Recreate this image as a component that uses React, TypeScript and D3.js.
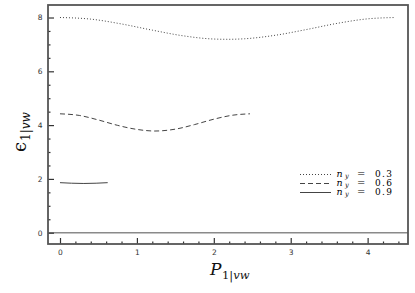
import * as d3 from "d3";
import { useEffect, useRef } from "react";

// n_y = 0.3 (dotted)
const x03 = [0, 0.4, 0.8, 1.2, 1.6, 2.0, 2.18, 2.4, 2.8, 3.2, 3.6, 4.0, 4.36];
const y03 = [8.0, 7.94, 7.76, 7.53, 7.32, 7.2, 7.19, 7.21, 7.34, 7.55, 7.78, 7.95, 8.0];
// n_y = 0.6 (dashed)
const x06 = [0, 0.25, 0.5, 0.75, 1.0, 1.235, 1.5, 1.75, 2.0, 2.25, 2.47];
const y06 = [4.42, 4.36, 4.19, 3.99, 3.84, 3.78, 3.85, 4.02, 4.22, 4.37, 4.42];
// n_y = 0.9 (solid)
const x09 = [0, 0.15, 0.31, 0.47, 0.62];
const y09 = [1.86, 1.84, 1.83, 1.84, 1.86];

const seriesLabels = ["0.3", "0.6", "0.9"];
const xMajor = [0, 1, 2, 3, 4];
const yMajor = [0, 2, 4, 6, 8];

export default function App() {
  const svgRef = useRef<SVGSVGElement | null>(null);

  useEffect(() => {
    if (!svgRef.current) return;
    const svg = d3.select(svgRef.current);
    svg.selectAll("*").remove();

    const left = 48;
    const right = 408;
    const top = 5;
    const bottom = 244;
    const serif = "DejaVu Serif, serif";

    const x = d3.scaleLinear().domain([-0.156, 4.525]).range([left, right]);
    const y = d3.scaleLinear().domain([-0.42, 8.465]).range([bottom, top]);

    const xMinor = d3.range(0, 4.41, 0.2).filter((v) => Math.abs(v - Math.round(v)) > 1e-6);
    const yMinor = d3.range(0, 8.41, 0.5).filter((v) => Math.abs(v % 2) > 1e-6);

    // zero line
    svg
      .append("line")
      .attr("x1", left)
      .attr("x2", right)
      .attr("y1", y(0))
      .attr("y2", y(0))
      .attr("stroke", "#8a8a8a")
      .attr("stroke-width", 1.6);

    // axes, ticks pointing inwards
    const xAxis = svg
      .append("g")
      .attr("transform", `translate(0,${bottom})`)
      .call(d3.axisBottom(x).tickValues(xMajor).tickSize(-6).tickPadding(6).tickFormat(d3.format("d")) as any);
    const xAxisMinor = svg
      .append("g")
      .attr("transform", `translate(0,${bottom})`)
      .call(d3.axisBottom(x).tickValues(xMinor).tickSize(-2.5).tickFormat(() => "") as any);
    const yAxis = svg
      .append("g")
      .attr("transform", `translate(${left},0)`)
      .call(d3.axisLeft(y).tickValues(yMajor).tickSize(-6).tickPadding(5.5).tickFormat(d3.format("d")) as any);
    const yAxisMinor = svg
      .append("g")
      .attr("transform", `translate(${left},0)`)
      .call(d3.axisLeft(y).tickValues(yMinor).tickSize(-2.5).tickFormat(() => "") as any);

    [xAxis, xAxisMinor, yAxis, yAxisMinor].forEach((g) => {
      g.select(".domain").remove();
      g.selectAll("line").attr("stroke", "#333").attr("stroke-width", 1.2);
      g.selectAll("text")
        .attr("fill", "#333")
        .attr("font-size", 7.5)
        .attr("font-family", "DejaVu Sans, sans-serif");
    });

    // curves
    const line = d3
      .line<[number, number]>()
      .x((d) => x(d[0]))
      .y((d) => y(d[1]))
      .curve(d3.curveMonotoneX);

    const series = [
      { xs: x03, ys: y03, dash: "1,2" },
      { xs: x06, ys: y06, dash: "5,3" },
      { xs: x09, ys: y09, dash: null },
    ];

    series.forEach((s) => {
      const pts = s.xs.map((v, i) => [v, s.ys[i]] as [number, number]);
      const p = svg
        .append("path")
        .datum(pts)
        .attr("fill", "none")
        .attr("stroke", "#444")
        .attr("stroke-width", 1)
        .attr("d", line);
      if (s.dash) p.attr("stroke-dasharray", s.dash);
    });

    // frame
    svg
      .append("rect")
      .attr("x", left)
      .attr("y", top)
      .attr("width", right - left)
      .attr("height", bottom - top)
      .attr("fill", "none")
      .attr("stroke", "#555")
      .attr("stroke-width", 1.8);

    // legend: one text per row
    const legend = svg.append("g").attr("font-family", serif).attr("fill", "#000");
    series.forEach((s, i) => {
      const base = 176.5 + i * 9;
      const l = legend
        .append("line")
        .attr("x1", 300)
        .attr("x2", 331)
        .attr("y1", base - 2)
        .attr("y2", base - 2)
        .attr("stroke", "#444")
        .attr("stroke-width", 1);
      if (s.dash) l.attr("stroke-dasharray", s.dash);
      const t = legend.append("text").attr("y", base).attr("font-size", 9);
      t.append("tspan").attr("x", 336.5).attr("font-style", "italic").attr("font-size", 9.5).text("n");
      t.append("tspan").attr("x", 345).attr("dy", 1.6).attr("font-size", 6.5).attr("font-style", "italic").text("y");
      t.append("tspan").attr("x", 357).attr("dy", -1.6).attr("font-size", 10).text("=");
      t.append("tspan").attr("x", 375).attr("letter-spacing", 1.3).text(seriesLabels[i]);
    });

    // x label
    const xl = svg
      .append("text")
      .attr("x", 210)
      .attr("y", 275)
      .attr("font-family", serif)
      .attr("font-size", 17)
      .attr("fill", "#111");
    xl.append("tspan").attr("font-style", "italic").text("P");
    xl.append("tspan").attr("font-size", 11.5).attr("dy", 4).attr("dx", 0.5).text("1|");
    xl.append("tspan").attr("font-size", 11.5).attr("font-style", "italic").text("vw");

    // y label
    const yl = svg
      .append("text")
      .attr("transform", `translate(26,152) rotate(-90)`)
      .attr("font-family", serif)
      .attr("font-size", 18)
      .attr("fill", "#111");
    yl.append("tspan").text("ϵ");
    yl.append("tspan").attr("font-size", 12).attr("dy", 4).attr("dx", 1).text("1|");
    yl.append("tspan").attr("font-size", 12).attr("font-style", "italic").text("vw");
  }, []);

  return (
    <svg
      ref={svgRef}
      width={415}
      height={293}
      style={{ position: "absolute", left: 0, top: 0, background: "#fff" }}
    />
  );
}
